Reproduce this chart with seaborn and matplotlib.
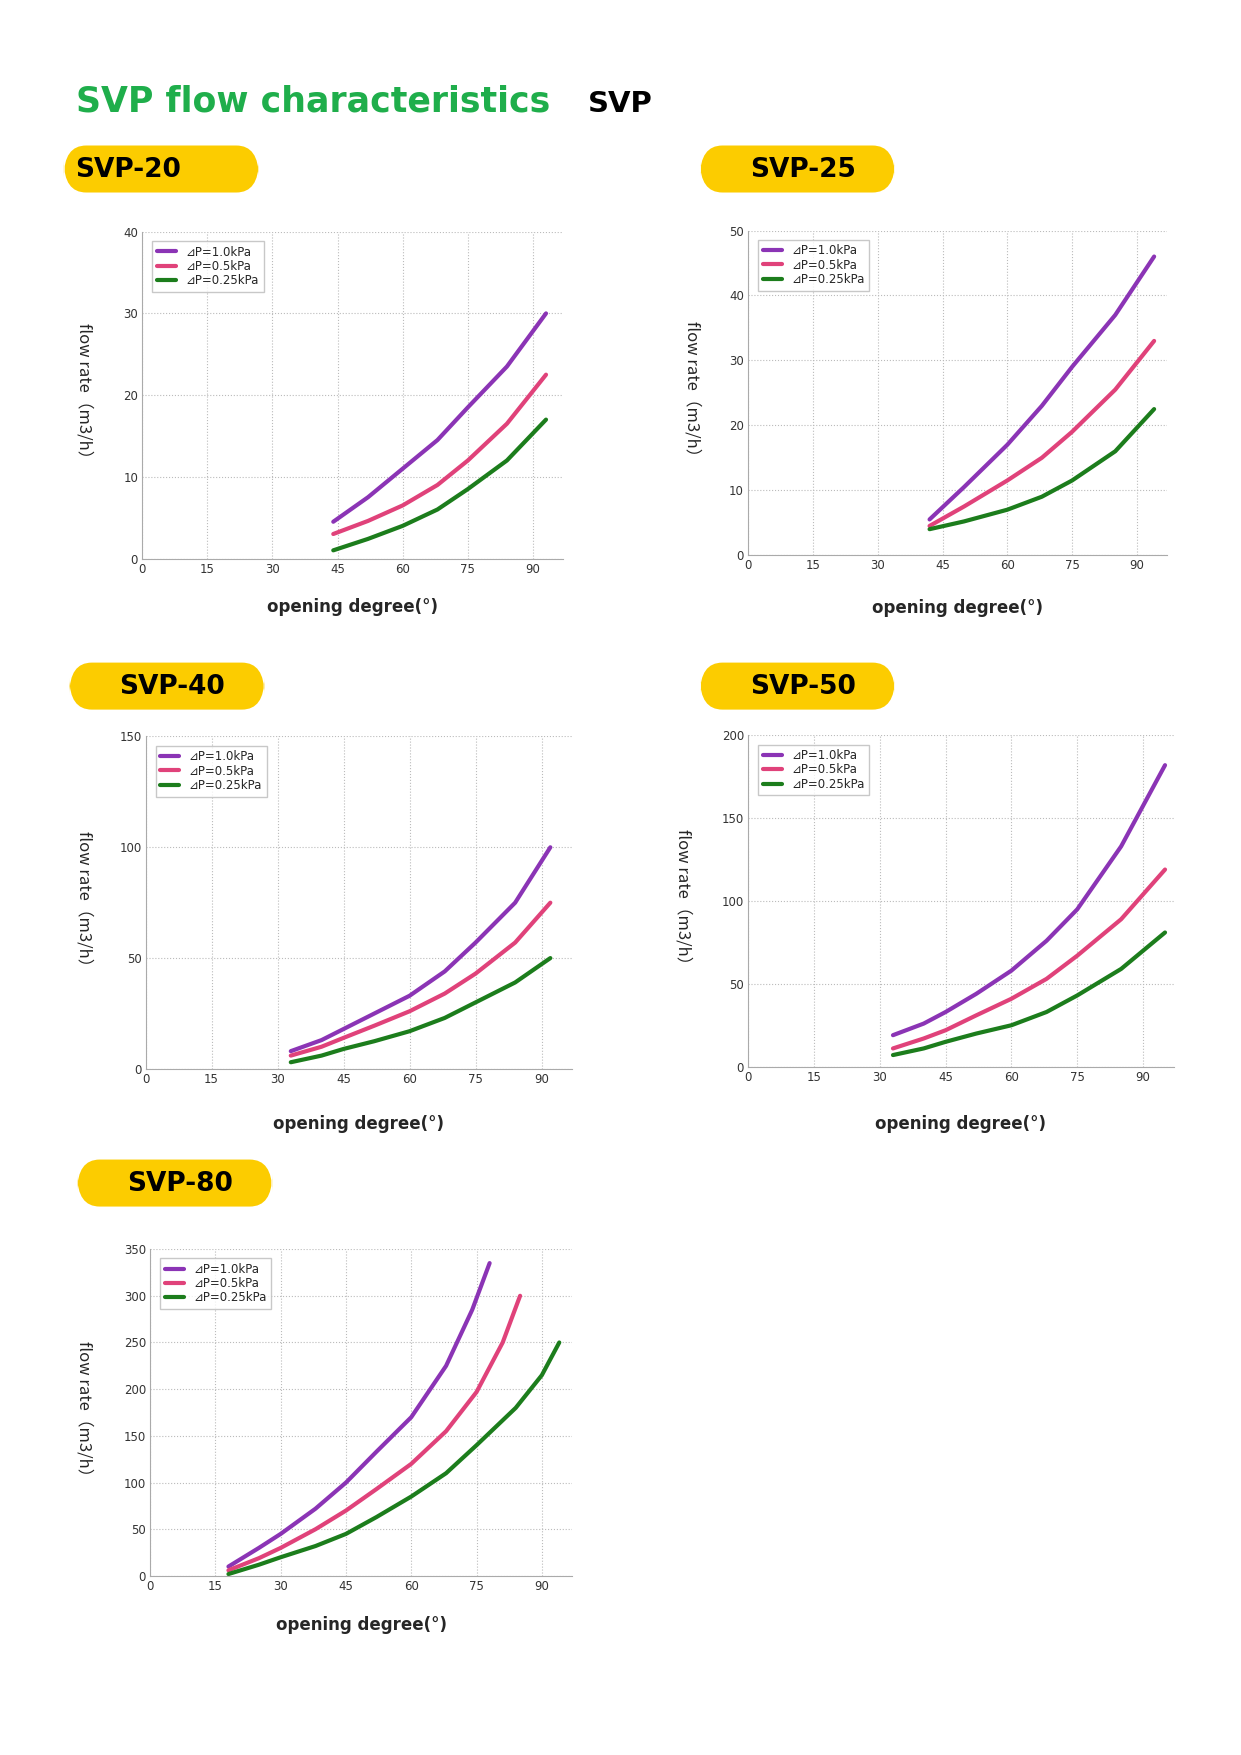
import matplotlib
matplotlib.use("Agg")
import matplotlib.pyplot as plt
import seaborn as sns
import pandas as pd
from matplotlib.patches import FancyBboxPatch

sns.set_style("white")
plt.rcParams['font.family'] = ['DejaVu Sans', 'Noto Sans CJK SC']

series_names = ["⊿P=1.0kPa", "⊿P=0.5kPa", "⊿P=0.25kPa"]
colors = ["#8b34b5", "#e0427a", "#1c7d1c"]
x_ticks = [0, 15, 30, 45, 60, 75, 90]

# SVP-20
svp20_x = [44, 52, 60, 68, 75, 84, 93]
svp20_p = [4.5, 7.5, 11, 14.5, 18.5, 23.5, 30]
svp20_m = [3, 4.6, 6.5, 9, 12, 16.5, 22.5]
svp20_g = [1, 2.4, 4, 6, 8.5, 12, 17]
# SVP-25
svp25_x = [42, 50, 60, 68, 75, 85, 94]
svp25_p = [5.5, 10.5, 17, 23, 29, 37, 46]
svp25_m = [4.5, 7.5, 11.5, 15, 19, 25.5, 33]
svp25_g = [4, 5.2, 7, 9, 11.5, 16, 22.5]
# SVP-40
svp40_x = [33, 40, 45, 52, 60, 68, 75, 84, 92]
svp40_p = [8, 13, 18, 25, 33, 44, 57, 75, 100]
svp40_m = [6, 10, 14, 19.5, 26, 34, 43, 57, 75]
svp40_g = [3, 6, 9, 12.5, 17, 23, 30, 39, 50]
# SVP-50
svp50_x = [33, 40, 45, 52, 60, 68, 75, 85, 95]
svp50_p = [19, 26, 33, 44, 58, 76, 95, 133, 182]
svp50_m = [11, 17, 22, 31, 41, 53, 67, 89, 119]
svp50_g = [7, 11, 15, 20, 25, 33, 43, 59, 81]
# SVP-80 (each curve ends at a different angle)
svp80_px = [18, 25, 30, 38, 45, 52, 60, 68, 74, 78]
svp80_p = [10, 30, 45, 72, 100, 133, 170, 225, 285, 335]
svp80_mx = [18, 25, 30, 38, 45, 52, 60, 68, 75, 81, 85]
svp80_m = [6, 19, 30, 50, 70, 93, 120, 155, 197, 250, 300]
svp80_gx = [18, 25, 30, 38, 45, 52, 60, 68, 75, 84, 90, 94]
svp80_g = [2, 12, 20, 32, 45, 63, 85, 110, 140, 180, 215, 250]

W, H = 1108.0, 1568.0
fig = plt.figure(figsize=(12.41, 17.55), dpi=100)


def add_panel(left, right, top, bottom, ymax, ystep, xs, ys, label, pill, xlab_y, ylab_x,
              label_left=False):
    ax = fig.add_axes([left / W, 1 - bottom / H, (right - left) / W, (bottom - top) / H])
    rows = []
    for name, x, y in zip(series_names, xs, ys):
        for a, b in zip(x, y):
            rows.append({"deg": a, "flow": b, "series": name})
    df = pd.DataFrame(rows)
    sns.lineplot(data=df, x="deg", y="flow", hue="series", palette=colors,
                 linewidth=3, ax=ax, sort=True)
    ax.set_xlim(0, 97)
    ax.set_ylim(0, ymax)
    ax.set_xticks(x_ticks)
    ax.set_yticks(range(0, ymax + 1, ystep))
    ax.tick_params(labelsize=8.5, length=0, pad=3, colors="#333333")
    ax.grid(True, linestyle=":", color="#bbbbbb", linewidth=0.8)
    for s in ["top", "right"]:
        ax.spines[s].set_visible(False)
    for s in ["left", "bottom"]:
        ax.spines[s].set_color("#aaaaaa")
    ax.set_xlabel("")
    ax.set_ylabel("")
    leg = ax.legend(loc="upper left", bbox_to_anchor=(0.01, 0.99), fontsize=8.5,
                    handlelength=1.6, labelspacing=0.1, borderpad=0.4,
                    fancybox=False, edgecolor="#bbbbbb")
    for line in leg.get_lines():
        line.set_linewidth(3)
    fig.text((left + right) / 2 / W, 1 - xlab_y / H, "opening degree(°)",
             ha="center", va="center", fontsize=12, fontweight="bold")
    fig.text(ylab_x / W, 1 - (top + bottom) / 2 / H, "flow rate（m3/h）",
             ha="center", va="center", rotation=-90, fontsize=12,
             family=['Noto Sans CJK SC', 'DejaVu Sans'])
    px0, py0 = pill
    box = FancyBboxPatch((px0 / W, 1 - (py0 + 42) / H), 174 / W, 42 / H,
                         boxstyle="round,pad=0,rounding_size=0.018",
                         transform=fig.transFigure, facecolor="#fccc00",
                         edgecolor="none")
    fig.patches.append(box)
    if label_left:
        fig.text((px0 + 10) / W, 1 - (py0 + 22) / H, label, ha="left", va="center",
                 fontsize=19, fontweight="bold", color="black")
    else:
        fig.text((px0 + 92) / W, 1 - (py0 + 22) / H, label, ha="center", va="center",
                 fontsize=19, fontweight="bold", color="black")


add_panel(127, 503, 207, 499, 40, 10, [svp20_x] * 3, [svp20_p, svp20_m, svp20_g],
          "SVP-20", (57, 130), 542, 75, label_left=True)
add_panel(668, 1042, 206, 496, 50, 10, [svp25_x] * 3, [svp25_p, svp25_m, svp25_g],
          "SVP-25", (625, 130), 543, 618)
add_panel(130, 511, 658, 955, 150, 50, [svp40_x] * 3, [svp40_p, svp40_m, svp40_g],
          "SVP-40", (62, 592), 1004, 75)
add_panel(668, 1048, 657, 953, 200, 50, [svp50_x] * 3, [svp50_p, svp50_m, svp50_g],
          "SVP-50", (625, 592), 1004, 610)
add_panel(134, 511, 1116, 1408, 350, 50, [svp80_px, svp80_mx, svp80_gx],
          [svp80_p, svp80_m, svp80_g], "SVP-80", (69, 1036), 1452, 75)

fig.text(68 / W, 1 - 91 / H, "SVP flow characteristics", ha="left", va="center",
         fontsize=25, fontweight="bold", color="#1fae4b")
fig.text(525 / W, 1 - 93 / H, "SVP", ha="left", va="center",
         fontsize=21, fontweight="bold", color="black")

fig.savefig("out.png", dpi=100)
